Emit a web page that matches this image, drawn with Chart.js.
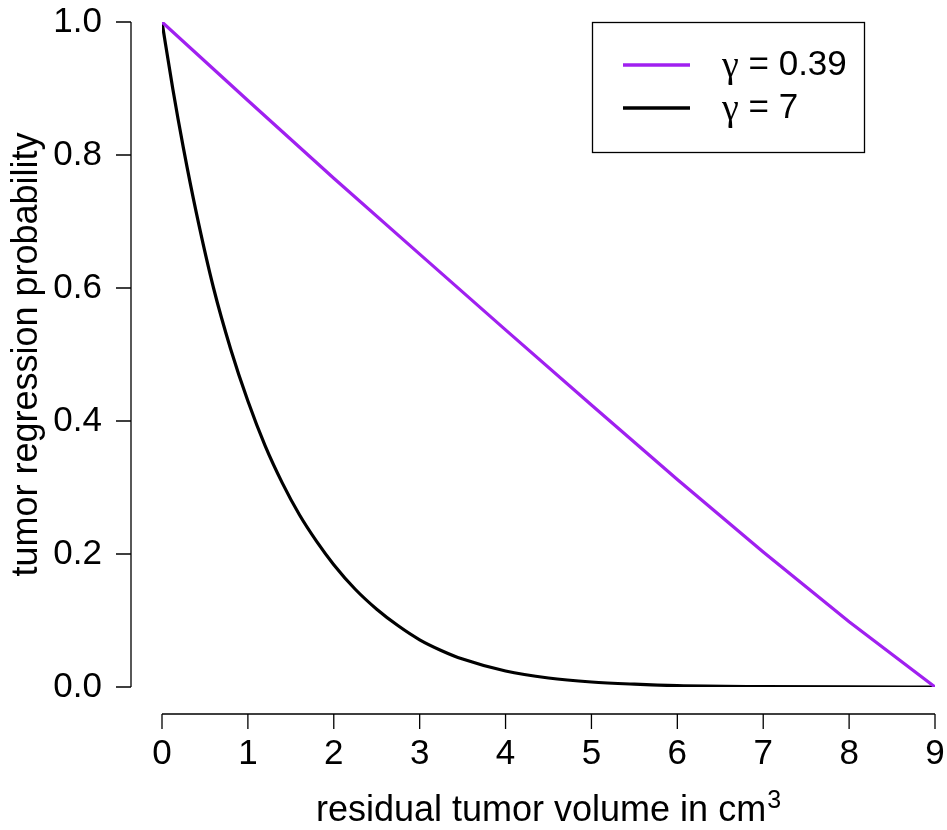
<!DOCTYPE html>
<html>
<head>
<meta charset="utf-8">
<script src="https://cdn.jsdelivr.net/npm/chart.js@4"></script>
<style>
  html, body { margin: 0; padding: 0; background: #ffffff; }
  #wrap { width: 947px; height: 830px; }
</style>
</head>
<body>
<div id="wrap"><canvas id="c" width="947" height="830"></canvas></div>
<script>
// ---- data ----
const seriesLabels = ['\u03B3 = 0.39', '\u03B3 = 7'];
const seriesColors = ['#A020F0', '#000000'];

// gamma = 0.39 (nearly straight line)
const xPurple = [0, 1, 2, 3, 4, 5, 6, 7, 8, 9];
const yPurple = [1.0, 0.882, 0.765, 0.651, 0.537, 0.424, 0.312, 0.203, 0.098, 0.0];

// gamma = 7 (steep decay)
const xBlack = [0, 0.125, 0.25, 0.4, 0.6, 0.8, 1.0, 1.2, 1.4, 1.6, 1.8, 2.0, 2.25, 2.5, 2.75, 3.0, 3.25, 3.5, 4.0, 4.5, 5.0, 5.5, 6.0, 7.0, 8.0, 9.0];
const yBlack = [1.0, 0.90, 0.81, 0.713, 0.60, 0.508, 0.43, 0.363, 0.307, 0.259, 0.219, 0.184, 0.147, 0.117, 0.092, 0.071, 0.055, 0.042, 0.024, 0.0135, 0.0075, 0.0042, 0.002, 0.0006, 0.0001, 0.0];

const xTicks = [0, 1, 2, 3, 4, 5, 6, 7, 8, 9];
const yTicks = [0.0, 0.2, 0.4, 0.6, 0.8, 1.0];
const xTitleBase = 'residual tumor volume in cm';
const xTitleSup = '3';
const yTitle = 'tumor regression probability';

const FONT = '"Liberation Sans", Arial, Helvetica, sans-serif';
const GREEK_FONT = '"Liberation Serif", "DejaVu Serif", serif';

function pairs(xs, ys) { return xs.map((x, i) => ({ x: x, y: ys[i] })); }

// R-style detached axes + x title with superscript
const rAxes = {
  id: 'rAxes',
  afterDraw(chart) {
    const ctx = chart.ctx;
    const xs = chart.scales.x, ys = chart.scales.y;
    const ca = chart.chartArea;
    const axX = ca.left - 31;   // y axis line position
    const axY = ca.bottom + 27; // x axis line position
    const tl = 15;
    ctx.save();
    ctx.strokeStyle = '#000';
    ctx.lineWidth = 1.3;
    ctx.beginPath();
    const y0 = ys.getPixelForValue(yTicks[0]);
    const y1 = ys.getPixelForValue(yTicks[yTicks.length - 1]);
    ctx.moveTo(axX, y0); ctx.lineTo(axX, y1);
    yTicks.forEach(v => { const p = ys.getPixelForValue(v); ctx.moveTo(axX, p); ctx.lineTo(axX - tl, p); });
    const x0 = xs.getPixelForValue(xTicks[0]);
    const x1 = xs.getPixelForValue(xTicks[xTicks.length - 1]);
    ctx.moveTo(x0, axY); ctx.lineTo(x1, axY);
    xTicks.forEach(v => { const p = xs.getPixelForValue(v); ctx.moveTo(p, axY); ctx.lineTo(p, axY + tl); });
    ctx.stroke();

    // x-axis title with superscript
    ctx.fillStyle = '#000';
    ctx.textBaseline = 'alphabetic';
    ctx.textAlign = 'left';
    ctx.font = '36px ' + FONT;
    const wb = ctx.measureText(xTitleBase).width;
    ctx.font = '25px ' + FONT;
    const ws = ctx.measureText(xTitleSup).width;
    const cx = (ca.left + ca.right) / 2;
    const startX = cx - (wb + ws + 1) / 2;
    const base = 821;
    ctx.font = '36px ' + FONT;
    ctx.fillText(xTitleBase, startX, base);
    ctx.font = '25px ' + FONT;
    ctx.fillText(xTitleSup, startX + wb + 1, base - 13);
    ctx.restore();
  }
};

// boxed legend in the top-right corner
const boxLegend = {
  id: 'boxLegend',
  afterDraw(chart) {
    const ctx = chart.ctx;
    const ca = chart.chartArea;
    const bx = ca.right - 343, by = ca.top, bw = 272, bh = 130;
    ctx.save();
    ctx.strokeStyle = '#000';
    ctx.lineWidth = 1.3;
    ctx.strokeRect(bx + 0.5, by + 0.5, bw, bh);
    ctx.textBaseline = 'middle';
    ctx.textAlign = 'left';
    chart.data.datasets.forEach((ds, i) => {
      const yy = by + 43 + i * 43;
      ctx.strokeStyle = ds.borderColor;
      ctx.lineWidth = 3.5;
      ctx.beginPath();
      ctx.moveTo(bx + 31, yy); ctx.lineTo(bx + 98, yy);
      ctx.stroke();
      ctx.fillStyle = '#000';
      const greek = ds.label.charAt(0);
      const rest = ds.label.slice(1);
      ctx.font = '38px ' + GREEK_FONT;
      ctx.fillText(greek, bx + 130, yy + 2);
      const gw = ctx.measureText(greek).width;
      ctx.font = '35px ' + FONT;
      ctx.fillText(rest, bx + 130 + gw, yy);
    });
    ctx.restore();
  }
};

function zeroPad(scale) {
  scale.paddingTop = 0; scale.paddingBottom = 0;
  scale.paddingLeft = 0; scale.paddingRight = 0;
}

new Chart(document.getElementById('c'), {
  type: 'line',
  data: {
    datasets: [
      { label: seriesLabels[0], data: pairs(xPurple, yPurple), borderColor: seriesColors[0], borderWidth: 3.2, pointRadius: 0, tension: 0, fill: false },
      { label: seriesLabels[1], data: pairs(xBlack, yBlack), borderColor: seriesColors[1], borderWidth: 3.2, pointRadius: 0, cubicInterpolationMode: 'monotone', fill: false }
    ]
  },
  options: {
    responsive: false,
    animation: false,
    devicePixelRatio: 1,
    layout: { padding: { top: 22, right: 12, left: 0, bottom: 0 } },
    plugins: { legend: { display: false }, tooltip: { enabled: false } },
    scales: {
      x: {
        type: 'linear', min: 0, max: 9,
        afterFit(scale) { scale.height = 143; zeroPad(scale); },
        afterBuildTicks(scale) { scale.ticks = xTicks.map(v => ({ value: v })); },
        grid: { display: false, drawTicks: false },
        border: { display: false },
        ticks: { padding: 46, color: '#000', font: { family: FONT, size: 35 }, callback: v => String(v), maxRotation: 0, autoSkip: false },
        title: { display: false }
      },
      y: {
        type: 'linear', min: 0, max: 1,
        afterFit(scale) { scale.width = 162; zeroPad(scale); },
        afterBuildTicks(scale) { scale.ticks = yTicks.map(v => ({ value: v })); },
        grid: { display: false, drawTicks: false },
        border: { display: false },
        ticks: { padding: 60, color: '#000', font: { family: FONT, size: 35 }, callback: v => Number(v).toFixed(1), autoSkip: false },
        title: { display: true, text: yTitle, color: '#000', font: { family: FONT, size: 36 }, padding: { top: 5, bottom: 0 } }
      }
    }
  },
  plugins: [rAxes, boxLegend]
});
</script>
</body>
</html>
